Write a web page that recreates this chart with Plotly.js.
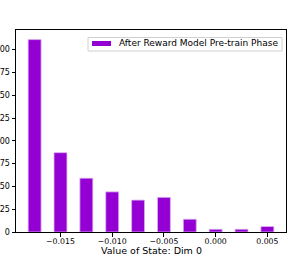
<!DOCTYPE html>
<html>
<head>
<meta charset="utf-8">
<script src="https://cdn.plot.ly/plotly-3.0.1.min.js"></script>
<style>html,body{margin:0;padding:0;background:#fff;}#chart{width:293px;height:258px;}</style>
</head>
<body>
<div id="chart"></div>
<script>
const binCenters = [-0.0175, -0.015, -0.0125, -0.01, -0.0075, -0.005, -0.0025, 0.0, 0.0025, 0.005];
const counts = [211, 87, 59, 44, 35, 38, 14, 3, 3, 6];
const seriesName = "After Reward Model Pre-train Phase";
const xTitle = "Value of State: Dim 0";
const xTickVals = [-0.015, -0.010, -0.005, 0.000, 0.005];
const xTickText = ["\u22120.015", "\u22120.010", "\u22120.005", "0.000", "0.005"];
const yTickVals = [0, 25, 50, 75, 100, 125, 150, 175, 200];

const barColor = "#9400D3";

const trace = {
  type: "bar",
  x: binCenters,
  y: counts,
  width: 0.00125,
  name: seriesName,
  showlegend: false,
  marker: {color: barColor, line: {color: "#d9b3f0", width: 0.8}}
};

// plot area in px: left 16, right 286, top 30, bottom 232
const L = 16, R = 286, T = 30, B = 232;
const px = v => (v - L) / (R - L);
const py = v => (B - v) / (B - T);

const layout = {
  width: 293, height: 258,
  margin: {l: L, r: 293 - R, t: T, b: 258 - B, pad: 0},
  paper_bgcolor: "#fff", plot_bgcolor: "#fff",
  font: {family: "DejaVu Sans", color: "#000", size: 8},
  xaxis: {
    range: [-0.0193, 0.0068],
    tickvals: xTickVals, ticktext: xTickText,
    ticks: "outside", ticklen: 3.5, tickcolor: "#000",
    ticklabelstandoff: -2,
    showline: true, linecolor: "#000", linewidth: 1, mirror: true,
    showgrid: false, zeroline: false,
    tickfont: {size: 7.8}
  },
  yaxis: {
    range: [0, 221.5],
    tickvals: yTickVals,
    ticks: "outside", ticklen: 3.5, tickcolor: "#000",
    showline: true, linecolor: "#000", linewidth: 1, mirror: true,
    showgrid: false, zeroline: false,
    tickfont: {size: 8}
  },
  shapes: [
    {type: "rect", xref: "paper", yref: "paper",
     x0: px(88), x1: px(282), y0: py(51), y1: py(37.5),
     fillcolor: "#fff", line: {color: "#d0d0d0", width: 1}, layer: "above"},
    {type: "rect", xref: "paper", yref: "paper",
     x0: px(92), x1: px(111), y0: py(46), y1: py(41),
     fillcolor: barColor, line: {width: 0}, layer: "above"}
  ],
  annotations: [
    {xref: "paper", yref: "paper", x: px(116.5), y: py(43.5),
     xanchor: "left", yanchor: "middle", showarrow: false,
     text: seriesName, font: {size: 9}},
    {xref: "paper", yref: "paper", x: px(151), y: py(250),
     xanchor: "center", yanchor: "middle", showarrow: false,
     text: xTitle, font: {size: 9.5}}
  ]
};

Plotly.newPlot("chart", [trace], layout, {displayModeBar: false, staticPlot: true});
</script>
</body>
</html>
